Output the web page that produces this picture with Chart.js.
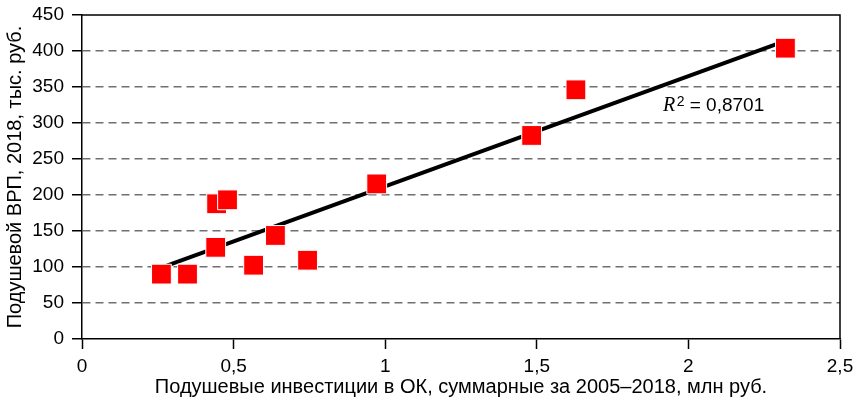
<!DOCTYPE html>
<html>
<head>
<meta charset="utf-8">
<script src="https://cdn.jsdelivr.net/npm/chart.js@4/dist/chart.umd.min.js"></script>
<style>
html,body{margin:0;padding:0;background:#fff;}
#wrap{width:859px;height:401px;position:relative;}
</style>
</head>
<body>
<div id="wrap"><canvas id="c" width="859" height="401"></canvas></div>
<script>
// ---- data ----
const investX = [0.262, 0.348, 0.444, 0.480, 0.441, 0.566, 0.638, 0.744, 0.972, 1.483, 1.629, 2.320];
const grpY    = [90.1, 90.1, 187.8, 193.3, 127.3, 102.5, 143.8, 109.4, 215.4, 282.7, 346.1, 403.9];
const trendX  = [0.262, 2.320];
const trendY  = [99, 414];
const xTickValues = [0, 0.5, 1, 1.5, 2, 2.5];
const xTickLabels = ['0', '0,5', '1', '1,5', '2', '2,5'];
const yTickValues = [0, 50, 100, 150, 200, 250, 300, 350, 400, 450];
const yTickLabels = ['0', '50', '100', '150', '200', '250', '300', '350', '400', '450'];
const xTitle = 'Подушевые инвестиции в ОК, суммарные за 2005–2018, млн руб.';
const yTitle = 'Подушевой ВРП, 2018, тыс. руб.';
const r2Value = '0,8701';
const r2Anchor = [1.916, 316.8];

const SANS = '"Liberation Sans", Arial, sans-serif';
const SERIF = '"Liberation Serif", "Times New Roman", serif';

const framePlugin = {
  id: 'frame',
  afterDatasetsDraw(chart) {
    const {ctx, chartArea: a, scales} = chart;
    ctx.save();
    ctx.strokeStyle = '#000';
    ctx.lineWidth = 1.5;
    ctx.beginPath();
    ctx.moveTo(a.left, a.top);
    ctx.lineTo(a.right, a.top);
    ctx.lineTo(a.right, a.bottom);
    ctx.stroke();
    // R^2 label
    const x0 = scales.x.getPixelForValue(r2Anchor[0]);
    const yb = scales.y.getPixelForValue(r2Anchor[1]);
    ctx.fillStyle = '#000';
    ctx.textBaseline = 'alphabetic';
    ctx.textAlign = 'left';
    ctx.font = 'italic 20px ' + SERIF;
    ctx.fillText('R', x0, yb);
    let x = x0 + ctx.measureText('R').width + 1.5;
    ctx.font = '14px ' + SANS;
    ctx.fillText('2', x, yb - 5);
    x += ctx.measureText('2').width;
    ctx.font = '19px ' + SANS;
    ctx.fillText(' = ' + r2Value, x, yb);
    ctx.restore();
  }
};

const points = investX.map((v, i) => ({x: v, y: grpY[i]}));
const trend = trendX.map((v, i) => ({x: v, y: trendY[i]}));

new Chart(document.getElementById('c'), {
  type: 'scatter',
  data: {
    datasets: [
      {
        type: 'line',
        data: trend,
        borderColor: '#000',
        borderWidth: 4,
        pointRadius: 0,
        fill: false,
        order: 2
      },
      {
        data: points,
        pointStyle: 'rect',
        pointRadius: 14,
        pointHoverRadius: 14,
        backgroundColor: '#ff0000',
        borderColor: '#ffffff',
        borderWidth: 1,
        order: 1
      }
    ]
  },
  options: {
    responsive: false,
    animation: false,
    devicePixelRatio: 1,
    layout: {padding: {top: 10, right: 19, bottom: 0, left: 0}},
    plugins: {legend: {display: false}, tooltip: {enabled: false}},
    events: [],
    scales: {
      x: {
        type: 'linear',
        min: 0, max: 2.5,
        afterBuildTicks(s) { s.ticks = xTickValues.map(v => ({value: v})); },
        afterFit(s) { s.height = 62; s.paddingLeft = 0; s.paddingRight = 0; },
        ticks: {
          autoSkip: false, maxRotation: 0, padding: 6, color: '#000',
          font: {family: SANS, size: 19},
          callback: (v, i) => xTickLabels[i]
        },
        grid: {drawOnChartArea: false, drawTicks: true, tickLength: 10, tickColor: '#000', tickWidth: 1.5, color: '#000'},
        border: {display: true, color: '#000', width: 1.5},
        title: {display: true, text: xTitle, color: '#000', font: {family: SANS, size: 20, lineHeight: 1.2}, padding: {top: 0, bottom: 2}}
      },
      y: {
        type: 'linear',
        min: 0, max: 450,
        afterBuildTicks(s) { s.ticks = yTickValues.map(v => ({value: v})); },
        afterFit(s) { s.width = 82; s.paddingTop = 0; s.paddingBottom = 0; },
        ticks: {
          autoSkip: false, padding: 8, color: '#000',
          font: {family: SANS, size: 19},
          callback: (v, i) => yTickLabels[i]
        },
        grid: {
          drawTicks: true, tickLength: 10, tickColor: '#000', tickWidth: 1.5, tickBorderDash: [],
          lineWidth: 1.5,
          color: c => (c.tick && (c.tick.value === 0 || c.tick.value === 450)) ? 'rgba(0,0,0,0)' : '#707070'
        },
        border: {display: true, color: '#000', width: 1.5, dash: [8, 5]},
        title: {display: true, text: yTitle, color: '#000', font: {family: SANS, size: 20, lineHeight: 1.2}, padding: {top: 3, bottom: 0}}
      }
    }
  },
  plugins: [framePlugin]
});
</script>
</body>
</html>
